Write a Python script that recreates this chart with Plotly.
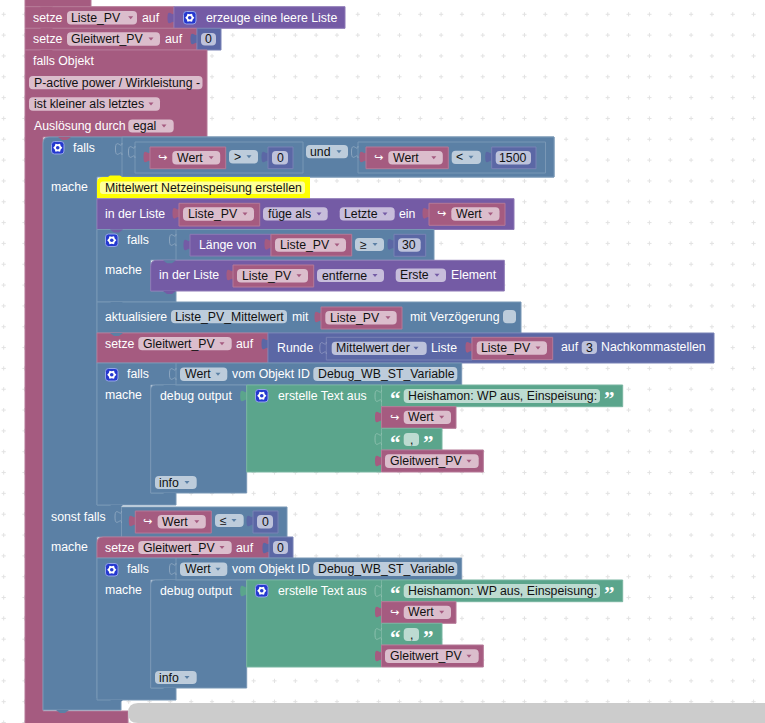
import numpy as np
import plotly.graph_objects as go

# texts of the workspace
VAR_LIST = "Liste_PV"
VAR_VALUE = "Gleitwert_PV"
VAR_AVG = "Liste_PV_Mittelwert"
WERT = "Wert"
DEBUG_ID = "Debug_WB_ST_Variable"
OBJ_NAME = "P-active power / Wirkleistung -"
OBJ_COND = "ist kleiner als letztes"
COMMENT = "Mittelwert Netzeinspeisung erstellen"
LOG_TEXT = "Heishamon: WP aus, Einspeisung:"

# colours
PINK = "#a55b80"
BLUE = "#5b80a5"
PURPLE = "#745ba5"
MATH = "#5b67a5"
GREEN = "#5ba58c"
CHIP = {PINK: "#dbbdcc", BLUE: "#bdccdb", PURPLE: "#c7bddb", MATH: "#bdc2db", GREEN: "#bddbd1"}
FONT = "Liberation Sans"
SIZE = 12.3

shapes = []
notes = []


def mix(col, other, t):
    a = [int(col[i:i + 2], 16) for i in (1, 3, 5)]
    b = [int(other[i:i + 2], 16) for i in (1, 3, 5)]
    return "#%02x%02x%02x" % tuple(round(p + (q - p) * t) for p, q in zip(a, b))


def path(d, fill=None, line=None, w=1):
    s = dict(type="path", path=d, xref="x", yref="y", line=dict(width=w if line else 0, color=line or "rgba(0,0,0,0)"))
    if fill:
        s["fillcolor"] = fill
    shapes.append(s)


def poly(pts, col, r=0):
    # outline with a rounded first corner when r is given
    x, y = pts[0]
    d = f"M{x},{y + r} Q{x},{y} {x + r},{y} " if r else f"M{x},{y} "
    d += " ".join(f"L{a},{b}" for a, b in pts[1:]) + " Z"
    path(d, col, mix(col, "#ffffff", 0.18))


def box(x0, y0, x1, y1, col, r=0):
    poly([(x0, y0), (x1, y0), (x1, y1), (x0, y1)], col, r)


def notch(x, y, col):
    path(f"M{x},{y} L{x + 4},{y + 3} L{x + 9},{y + 3} L{x + 13},{y} Z", col)


def tab(x, y, col, outline=False):
    # puzzle tab sticking out on the left of a value block
    d = f"M{x},{y} C{x},{y + 7} {x - 6.5},{y - 6} {x - 6.5},{y + 6} S{x},{y + 5} {x},{y + 12}"
    if outline:
        path(d, None, mix(col, "#ffffff", 0.3))
    else:
        path(d + " Z", col)


def text(x, cy, s, color="#ffffff", size=SIZE, anchor="left", font=FONT):
    if anchor == "left":
        x -= 1  # annotations keep a 1px pad
    notes.append(dict(x=x, y=cy, text=s, showarrow=False, xanchor=anchor, yanchor="middle", xref="x", yref="y",
                      font=dict(family=font, size=size, color=color), borderpad=0))


def round_box(x0, y0, x1, y1, fill, r=4, line=None):
    path(f"M{x0 + r},{y0} L{x1 - r},{y0} Q{x1},{y0} {x1},{y0 + r} L{x1},{y1 - r} Q{x1},{y1} {x1 - r},{y1} "
         f"L{x0 + r},{y1} Q{x0},{y1} {x0},{y1 - r} L{x0},{y0 + r} Q{x0},{y0} {x0 + r},{y0} Z", fill, line)


def chip(x0, x1, y0, y1, s, tx, parent, arrow=None, center=False):
    round_box(x0, y0, x1, y1, CHIP[parent])
    cy = (y0 + y1) / 2
    if center:
        text((x0 + x1) / 2, cy, s, "#111111", anchor="center")
    else:
        text(tx, cy, s, "#111111")
    if arrow:
        path(f"M{arrow - 2.5},{cy - 1.5} L{arrow + 2.5},{cy - 1.5} L{arrow},{cy + 1.5} Z", parent)


def gear(x0, y0):
    round_box(x0 + 0.5, y0 + 0.5, x0 + 13, y0 + 13, "#2438cf", 3, "#94a3e8")
    cx, cy = x0 + 6.75, y0 + 6.75
    pts = []
    for k in range(12):
        a = k * np.pi / 6
        rad = 4.6 if k % 2 == 0 else 3.4
        pts.append(f"{cx + rad * np.cos(a):.2f},{cy + rad * np.sin(a):.2f}")
    path("M" + " L".join(pts) + " Z", "#ffffff")
    shapes.append(dict(type="circle", x0=cx - 1.8, x1=cx + 1.8, y0=cy - 1.8, y1=cy + 1.8, xref="x", yref="y",
                       fillcolor="#2438cf", line=dict(width=0)))


def var_block(x0, x1, y0, y1, s, chip_x0=None, chip_x1=None, arrow=None):
    tab(x0, y0 + 4, PINK)
    box(x0, y0, x1, y1, PINK)
    cx0 = x0 + 4.3 if chip_x0 is None else chip_x0
    cx1 = x1 - 5.3 if chip_x1 is None else chip_x1
    chip(cx0, cx1, y0 + 4, y0 + 17.5, s, cx0 + 4.6, PINK, arrow if arrow else cx1 - 9)


def get_wert(x0, x1, y0, y1):
    tab(x0, y0 + 4, PINK)
    box(x0, y0, x1, y1, PINK)
    text(x0 + 8, y0 + 10.5, "↪", size=11, font="DejaVu Sans")
    chip(x0 + 22.3, x1 - 5.5, y0 + 4, y0 + 17.5, WERT, x0 + 26.7, PINK, x1 - 14.5)


def number(x0, x1, y0, y1, s):
    tab(x0, y0 + 4, MATH)
    box(x0, y0, x1, y1, MATH)
    chip(x0 + 4, x1 - 5, y0 + 4, y0 + 17.5, s, 0, MATH, center=True)


def quote(x, cy, s):
    text(x, cy + 3.5, f"<b>{s}</b>", size=21, font="Liberation Serif")


def falls_debug(dy):
    # "falls Wert vom Objekt ID ... mache debug output" group, drawn twice
    poly([(97, 363 + dy), (461.7, 363 + dy), (461.7, 385 + dy), (150.7, 385 + dy), (150.7, 493 + dy),
          (176, 493 + dy), (176, 505 + dy), (97, 505 + dy)], BLUE)
    gear(105, 368 + dy)
    text(127.3, 374 + dy, "falls")
    path(f"M176,{363 + dy} L176,{385 + dy}", None, mix(BLUE, "#ffffff", 0.18))
    tab(176, 368 + dy, BLUE, True)
    chip(180, 227.3, 367.5 + dy, 381 + dy, WERT, 184.7, BLUE, 218)
    text(232, 374 + dy, "vom Objekt ID")
    chip(313.3, 457.3, 367 + dy, 381 + dy, DEBUG_ID, 317.7, BLUE)
    text(105, 395 + dy, "mache")
    box(150.7, 385 + dy, 246.7, 493 + dy, BLUE, 5)
    text(159.5, 395.7 + dy, "debug output")
    chip(155, 196.7, 476 + dy, 489 + dy, "info", 159.3, BLUE, 187)
    tab(246.7, 390 + dy, GREEN)
    box(246.7, 385 + dy, 381.5, 472 + dy, GREEN)
    gear(255, 389 + dy)
    text(277.7, 395.7 + dy, "erstelle Text aus")
    box(381.5, 385 + dy, 622.7, 406.7 + dy, GREEN)
    tab(381.5, 390 + dy, GREEN, True)
    quote(389.5, 395.7 + dy, "“")
    chip(403.7, 600, 389 + dy, 403 + dy, LOG_TEXT, 408.3, GREEN)
    quote(603.7, 395.7 + dy, "”")
    tab(381.5, 411 + dy, PINK)
    box(381.5, 406.7 + dy, 456, 428.3 + dy, PINK)
    text(390, 417.5 + dy, "↪", size=11, font="DejaVu Sans")
    chip(403.7, 451, 410.7 + dy, 424 + dy, WERT, 408, PINK, 441.7)
    box(381.5, 428.3 + dy, 442, 450 + dy, GREEN)
    tab(381.5, 433 + dy, GREEN, True)
    quote(389.5, 439.5 + dy, "“")
    chip(403.7, 419, 433 + dy, 446 + dy, ",", 0, GREEN, center=True)
    quote(423, 439.5 + dy, "”")
    tab(381.5, 455 + dy, PINK)
    box(381.5, 450 + dy, 483.3, 472 + dy, PINK)
    chip(385, 478.7, 454.3 + dy, 468 + dy, VAR_VALUE, 389.7, PINK, 469)
    notch(163, 385 + dy, BLUE)
    notch(163, 493 + dy, BLUE)
    notch(110, 505 + dy, BLUE)


# top statements
box(25, -5, 91, 6.7, PINK)
box(25, 6.7, 174, 28.3, PINK)
notch(40, 6.7, PINK)
text(33, 17.5, "setze")
chip(67, 137, 11, 24.5, VAR_LIST, 71, PINK, 130.7)
text(142, 17.5, "auf")
tab(174, 12, PURPLE)
box(174, 6.7, 345, 28.3, PURPLE)
gear(183, 11)
text(205.5, 17.5, "erzeuge eine leere Liste")

box(25, 28.3, 197, 50, PINK)
notch(40, 28.3, PINK)
text(33, 38.7, "setze")
chip(67, 160, 32.3, 45.7, VAR_VALUE, 71, PINK, 151)
text(164.5, 38.7, "auf")
tab(197, 33, MATH)
box(197, 28.3, 221, 50, MATH)
chip(201, 216, 33, 45.5, "0", 0, MATH, center=True)

# trigger block, runs down the left side
poly([(25, 50), (207, 50), (207, 137), (43, 137), (43, 711), (128, 711), (128, 730), (25, 730)], PINK)
notch(40, 50, PINK)
text(33, 60.7, "falls Objekt")
chip(29, 202.5, 76, 89.3, OBJ_NAME, 33.5, PINK)
chip(29, 160, 97.3, 110.7, OBJ_COND, 33.5, PINK, 151)
text(33.5, 125.7, "Auslösung durch")
chip(128.3, 173.7, 119.5, 132.5, "egal", 133, PINK, 164)

# outer if block
poly([(43, 137), (554, 137), (554, 177), (97, 177), (97, 505), (121, 505), (121, 507), (287, 507), (287, 537),
      (97, 537), (97, 698), (121, 698), (121, 710), (43, 710)], BLUE, 6)
notch(58, 137, PINK)
notch(56, 710, BLUE)
gear(51, 141)
text(73.3, 147.5, "falls")
box(122, 137, 554, 177, BLUE)
tab(122, 143, BLUE, True)
box(135, 142, 303, 173, BLUE)
tab(135, 146, BLUE, True)
get_wert(150, 225.7, 147, 168.7)
chip(229, 258, 150, 163.5, ">", 233.5, BLUE, 249)
number(268, 293, 147, 168.7, "0")
chip(306, 348, 145, 158.3, "und", 310, BLUE, 339)
box(358, 142, 545.5, 173, BLUE)
tab(358, 146, BLUE, True)
get_wert(366, 448.3, 147, 168.7)
chip(451.7, 481, 150.7, 164, "<", 456, BLUE, 471)
number(491.7, 536, 147, 168.7, "1500")
text(51, 187, "mache")

# comment
path("M97,198 L97,183 Q97,177 103,177 L108,177 L110,175.5 L120,175.5 L122,177 L310,177 L310,198 L122,198 L120,201 "
     "L112,201 L110,198 Z", "#ffff00")
round_box(100, 181.5, 305, 194, "#ffff99", 3)
text(105, 187.7, COMMENT, "#111111")

# add to list
box(97, 198.7, 514, 229.5, PURPLE)
text(105, 214, "in der Liste")
var_block(179, 259.7, 203.3, 226, VAR_LIST, 183, 254, 245)
chip(263, 327.7, 207.3, 220.5, "füge als", 268, PURPLE, 319)
chip(339.7, 394.7, 207.3, 220.5, "Letzte", 344, PURPLE, 385)
text(399.3, 214, "ein")
get_wert(429, 505, 203.3, 225.3)

# inner if on list length
poly([(97, 229.5), (434, 229.5), (434, 260), (150.7, 260), (150.7, 291), (176, 291), (176, 302), (97, 302)], BLUE)
notch(110, 229.5, PURPLE)
gear(105, 233.5)
text(127.3, 240, "falls")
path("M176,229.5 L176,260", None, mix(BLUE, "#ffffff", 0.18))
tab(176, 234, BLUE, True)
tab(190, 239, PURPLE)
box(190, 234.3, 271, 256, PURPLE)
text(198.7, 245, "Länge von")
var_block(271, 351.7, 234.3, 256, VAR_LIST, 275, 346, 337)
chip(355, 384, 238, 251, "≥", 359.7, BLUE, 375)
number(394, 425.7, 234.3, 256.3, "30")
text(105, 269.7, "mache")
box(150.7, 260.3, 504.3, 291, PURPLE, 6)
notch(163, 260.3, BLUE)
notch(163, 291, PURPLE)
text(159.3, 274.7, "in der Liste")
var_block(233, 313.7, 265, 287, VAR_LIST, 237, 308, 299)
chip(317, 384, 269, 282, "entferne", 321.7, PURPLE, 375)
chip(395.7, 446, 268.5, 282, "Erste", 400.3, PURPLE, 437)
text(450.7, 275, "Element")

# update state
box(97, 302, 521, 333, BLUE)
notch(110, 302, BLUE)
text(105.3, 317, "aktualisiere")
chip(171, 287, 310, 323.3, VAR_AVG, 175.3, BLUE)
text(291.7, 317, "mit")
var_block(321, 402, 307, 329, VAR_LIST, 325.3, 396.7, 388)
text(410.3, 317, "mit Verzögerung")
round_box(503, 310, 516, 323.3, CHIP[BLUE], 4)

# rounded average
box(97, 333, 268, 363, PINK)
notch(110, 333, BLUE)
notch(110, 363, PINK)
text(105, 343.7, "setze")
chip(138.3, 231.7, 337, 350.3, VAR_VALUE, 143, PINK, 222)
text(236, 343.7, "auf")
tab(268, 338, MATH)
box(268, 333, 714, 363, MATH)
text(277.3, 347.7, "Runde")
box(326.3, 337.3, 472, 360, MATH)
tab(326.3, 342, MATH, True)
chip(331.7, 426.7, 341.7, 355, "Mittelwert der", 336.3, MATH, 416)
text(431, 347.7, "Liste")
var_block(472, 552.7, 337.3, 359.6, VAR_LIST, 476.7, 547, 538)
text(560.7, 347, "auf")
chip(581.7, 597, 341, 354, "3", 0, MATH, center=True)
text(601.3, 347, "Nachkommastellen")

falls_debug(0)

# else if
text(51, 516.7, "sonst falls")
path("M121.5,507 L121.5,537", None, mix(BLUE, "#ffffff", 0.18))
tab(121.5, 511, BLUE, True)
get_wert(135.3, 211.3, 511, 533)
chip(215, 243.7, 514, 527, "≤", 219.7, BLUE, 234)
number(253, 278, 511, 533, "0")
text(51, 547, "mache")
box(97, 537, 269, 558, PINK, 6)
notch(110, 558, PINK)
text(105, 547.7, "setze")
chip(138.3, 231.7, 541, 554, VAR_VALUE, 143, PINK, 222)
text(236, 547.7, "auf")
tab(269, 542, MATH)
box(269, 537, 293, 558, MATH)
chip(273, 288, 541, 554, "0", 0, MATH, center=True)

falls_debug(195)

# horizontal scrollbar
path("M138,703 L770,703 L770,723 L138,723 Q128,723 128,713 Q128,703 138,703 Z", "#cccccc")

# background dots of the workspace grid
grid_x = np.arange(3.7, 765, 20.83)
grid_y = np.arange(14.3, 723, 20.83)
gx, gy = np.meshgrid(grid_x, grid_y)

fig = go.Figure(go.Scatter(
    x=gx.ravel(), y=gy.ravel(), mode="markers", hoverinfo="skip",
    marker=dict(symbol="cross-thin", size=3, line=dict(width=1, color="#e2e2e2")),
))

fig.update_layout(
    width=765, height=723,
    margin=dict(l=0, r=0, t=0, b=0),
    paper_bgcolor="white", plot_bgcolor="white",
    showlegend=False,
    xaxis=dict(range=[0, 765], visible=False, fixedrange=True),
    yaxis=dict(range=[723, 0], visible=False, fixedrange=True),
    shapes=shapes,
    annotations=notes,
)

fig.write_html("out.html", config=dict(displayModeBar=False),
               post_script="document.body.style.margin='0';document.body.style.overflow='hidden';")
